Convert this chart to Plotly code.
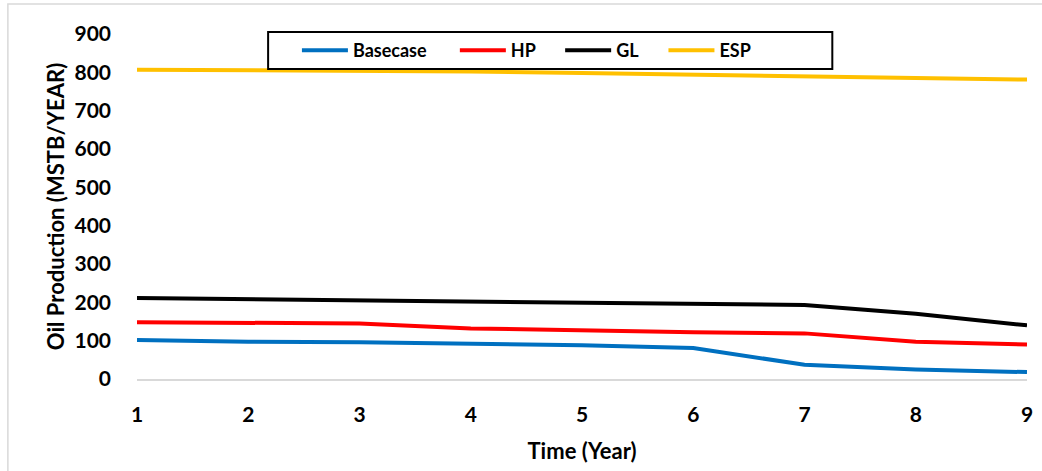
import plotly.graph_objects as go

# Years on the x axis
years = [1, 2, 3, 4, 5, 6, 7, 8, 9]

# Annual oil production per scenario (MSTB/YEAR)
basecase = [102, 97, 96, 93, 88, 81, 37, 25, 18]
hp = [148, 147, 145, 132, 126, 122, 119, 97, 90]
gl = [211, 208, 204, 201, 198, 196, 193, 170, 140]
esp = [807, 806, 804, 802, 798, 794, 791, 785, 781]

series_names = ["Basecase", "HP", "GL", "ESP"]
series_values = [basecase, hp, gl, esp]
series_colors = ["#0070C0", "#FF0000", "#000000", "#FFC000"]

y_ticks = [0, 100, 200, 300, 400, 500, 600, 700, 800, 900]

FONT = "Lato, 'Open Sans', sans-serif"

# plot area in pixels: left 137, right 1033, top 34, bottom 379
PL, PR, PT, PB = 137, 1033, 34, 379


def px_x(p):
    return (p - PL) / (PR - PL)


def px_y(p):
    return (PB - p) / (PB - PT)


# left edge (px) of each legend entry inside the shared legend frame
legend_left_px = [298, 457, 563, 667]
legend_ids = ["legend", "legend2", "legend3", "legend4"]

fig = go.Figure()
for name, vals, color, lid in zip(series_names, series_values, series_colors, legend_ids):
    fig.add_trace(go.Scatter(
        x=years, y=vals, name=name, mode="lines",
        line=dict(color=color, width=4),
        legend=lid,
    ))

legend_style = dict(
    orientation="h",
    xanchor="left",
    y=px_y(50.5), yanchor="middle",
    borderwidth=0,
    bgcolor="rgba(0,0,0,0)",
    font=dict(family=FONT, size=18, color="black", weight="bold"),
    itemwidth=46,
)
legends = {lid: dict(legend_style, x=px_x(xl)) for lid, xl in zip(legend_ids, legend_left_px)}

fig.update_layout(
    width=1042, height=471,
    margin=dict(l=PL, r=1042 - PR, t=PT, b=471 - PB),
    paper_bgcolor="white", plot_bgcolor="white",
    font=dict(family=FONT, color="black"),
    showlegend=True,
    **legends,
    xaxis=dict(
        range=[1, 9], tickvals=years, ticktext=[str(y) for y in years],
        showgrid=False, zeroline=False,
        showline=True, linecolor="#D9D9D9", linewidth=1.5,
        ticks="", ticklabelstandoff=16,
        tickfont=dict(family=FONT, size=21, color="black", weight="bold"),
        title=dict(text="<b>Time (Year)</b>", font=dict(family=FONT, size=22, color="black"), standoff=19),
    ),
    yaxis=dict(
        range=[0, 900], tickvals=y_ticks,
        showgrid=False, zeroline=False, showline=False,
        ticks="", ticklabelstandoff=25,
        tickfont=dict(family=FONT, size=21, color="black", weight="bold"),
        title=dict(text="<b>Oil Production (MSTB/YEAR)</b>", font=dict(family=FONT, size=22, color="black"), standoff=3),
    ),
    shapes=[
        # outer chart frame
        dict(
            type="rect", xref="paper", yref="paper",
            x0=px_x(7), x1=1.05, y0=-0.4, y1=px_y(4),
            line=dict(color="#D9D9D9", width=1.5), fillcolor="rgba(0,0,0,0)", layer="below",
        ),
        # legend frame
        dict(
            type="rect", xref="paper", yref="paper",
            x0=px_x(269), x1=px_x(837), y0=px_y(69), y1=px_y(32),
            line=dict(color="black", width=2), fillcolor="white", layer="above",
        ),
    ],
)

fig.write_html("out.html")
